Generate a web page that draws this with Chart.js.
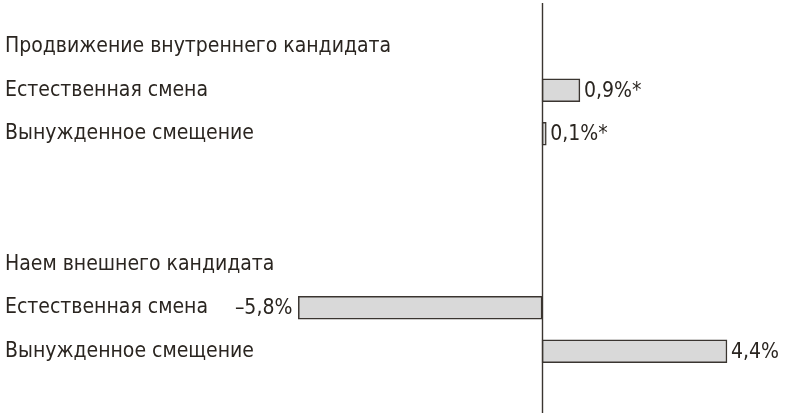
<!DOCTYPE html>
<html>
<head>
<meta charset="utf-8">
<script src="https://cdn.jsdelivr.net/npm/chart.js@4"></script>
<style>
html,body{margin:0;padding:0;background:#fff;}
#wrap{width:790px;height:417px;}
</style>
</head>
<body>
<div id="wrap"><canvas id="c"></canvas></div>
<script>
const categories = [
  'Продвижение внутреннего кандидата',
  'Естественная смена',
  'Вынужденное смещение',
  '',
  '',
  'Наем внешнего кандидата',
  'Естественная смена',
  'Вынужденное смещение'
];
const values = [null, 0.9, 0.1, null, null, null, -5.8, 4.4];
const valueLabels = ['', '0,9%*', '0,1%*', '', '', '', '–5,8%', '4,4%'];

const FONT = '"Liberation Sans Narrow", "DejaVu Sans Condensed", sans-serif';
const TEXT = '#2a2520';

const zeroLine = {
  id: 'zeroLine',
  afterDatasetsDraw(chart) {
    const ctx = chart.ctx, x = chart.scales.x.getPixelForValue(0);
    ctx.save();
    ctx.strokeStyle = '#3a3530';
    ctx.lineWidth = 1.4;
    ctx.beginPath();
    ctx.moveTo(Math.round(x) + 0.5, 3);
    ctx.lineTo(Math.round(x) + 0.5, 413);
    ctx.stroke();
    ctx.restore();
  }
};
const valueText = {
  id: 'valueText',
  afterDatasetsDraw(chart) {
    const ctx = chart.ctx;
    const meta = chart.getDatasetMeta(0);
    ctx.save();
    ctx.font = '21px ' + FONT;
    ctx.fillStyle = TEXT;
    ctx.textBaseline = 'middle';
    meta.data.forEach((bar, i) => {
      const v = values[i];
      if (v === null || v === undefined) return;
      if (v >= 0) {
        ctx.textAlign = 'left';
        ctx.fillText(valueLabels[i], bar.x + 4, bar.y + 1);
      } else {
        ctx.textAlign = 'right';
        ctx.fillText(valueLabels[i], bar.x - 6, bar.y + 1);
      }
    });
    ctx.restore();
  }
};

new Chart(document.getElementById('c'), {
  type: 'bar',
  data: {
    labels: categories,
    datasets: [{
      data: values,
      backgroundColor: '#d9d9d9',
      borderColor: '#3a3530',
      borderWidth: 1.5,
      borderSkipped: false,
      barThickness: 23
    }]
  },
  options: {
    indexAxis: 'y',
    responsive: true,
    maintainAspectRatio: false,
    animation: false,
    layout: { padding: { top: 25, bottom: 44, left: 0, right: 0 } },
    plugins: { legend: { display: false }, tooltip: { enabled: false } },
    scales: {
      x: { display: false, min: -12.9, max: 5.9 },
      y: {
        display: true,
        afterFit(scale) { scale.width = 0; },
        grid: { display: false },
        border: { display: false },
        ticks: {
          mirror: true,
          padding: 5,
          crossAlign: 'near',
          color: TEXT,
          font: { family: FONT, size: 21 }
        }
      }
    }
  },
  plugins: [zeroLine, valueText]
});
</script>
</body>
</html>
